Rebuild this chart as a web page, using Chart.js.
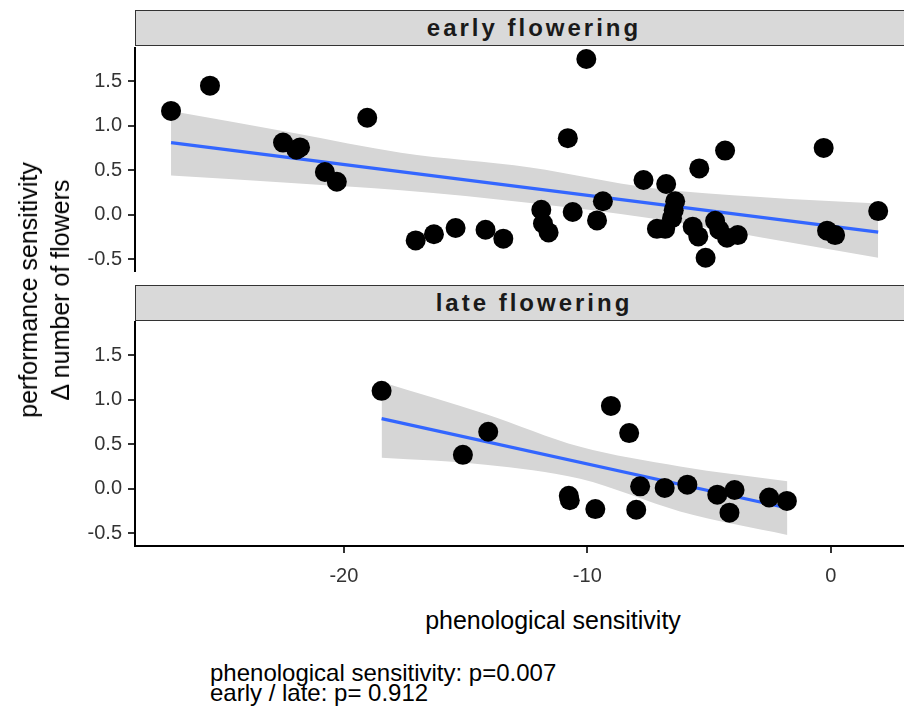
<!DOCTYPE html>
<html>
<head>
<meta charset="utf-8">
<script src="https://cdn.jsdelivr.net/npm/chart.js@4.4.0/dist/chart.umd.min.js"></script>
<style>
  html, body { margin: 0; padding: 0; background: #fff; }
  body {
    width: 904px; height: 708px; position: relative; overflow: hidden;
    font-family: "Liberation Sans", Arial, sans-serif; color: #000;
  }
  .panel { position: absolute; left: 0; width: 904px; }
  .strip {
    position: absolute; left: 135px; width: 796px; height: 34px;
    background: #d9d9d9; border: 1px solid #333;
    text-align: center; font-weight: bold; font-size: 24px;
    letter-spacing: 3px; line-height: 34px; color: #1a1a1a;
  }
  .ytitle {
    position: absolute; left: 44px; top: 290px;
    transform: translate(-50%, -50%) rotate(-90deg);
    white-space: nowrap; text-align: center;
    font-size: 25px; line-height: 32px;
  }
  .xtitle {
    position: absolute; left: 553px; top: 620px;
    transform: translate(-50%, -50%);
    white-space: nowrap; font-size: 25px; line-height: 30px;
  }
  .note {
    position: absolute; left: 210px; top: 663px;
    white-space: nowrap; font-size: 24px; line-height: 20px;
  }
</style>
</head>
<body>

<div class="strip" style="top:10px">early flowering</div>
<div class="panel" style="top:47px; height:225px"><canvas id="earlyChart"></canvas></div>

<div class="strip" style="top:285px">late flowering</div>
<div class="panel" style="top:321px; height:275px"><canvas id="lateChart"></canvas></div>

<div class="ytitle">performance sensitivity<br>Δ number of flowers</div>
<div class="xtitle">phenological sensitivity</div>
<div class="note">phenological sensitivity: p=0.007<br>early / late: p= 0.912</div>

<script>
// --- datos ---
const xTicks = [-20, -10, 0];
const yTicks = [-0.5, 0.0, 0.5, 1.0, 1.5];

// early flowering
const earlyX = [-27.10, -25.50, -22.50, -21.95, -21.80, -20.78, -20.29, -19.04, -17.05, -16.30,
                -15.41, -14.18, -13.45, -11.89, -11.82, -11.59, -10.80, -10.60, -10.04, -9.60,
                -9.36, -7.69, -7.14, -6.80, -6.76, -6.52, -6.45, -6.39, -5.67, -5.44,
                -5.40, -5.14, -4.75, -4.58, -4.34, -4.26, -3.82, -0.29, -0.15, 0.18, 1.95];
const earlyY = [1.166, 1.45, 0.81, 0.73, 0.756, 0.48, 0.37, 1.09, -0.29, -0.22,
                -0.15, -0.17, -0.27, 0.055, -0.10, -0.20, 0.86, 0.03, 1.75, -0.065,
                0.15, 0.39, -0.16, -0.16, 0.345, -0.04, 0.05, 0.15, -0.135, -0.245,
                0.52, -0.485, -0.07, -0.17, 0.72, -0.26, -0.23, 0.75, -0.18, -0.23, 0.04];
const earlyFitX = [-27.10, 1.95];
const earlyFitY = [0.81, -0.196];
const earlyBandX  = [-27.10, -22.0, -17.66, -12.34, -7.4, -2.9, 1.95];
const earlyBandLo = [0.44, 0.353, 0.274, 0.131, -0.04, -0.253, -0.485];
const earlyBandHi = [1.165, 0.914, 0.695, 0.53, 0.30, 0.199, 0.124];

// late flowering
const lateX = [-18.45, -15.11, -14.07, -10.76, -10.72, -9.67, -9.03, -8.28, -7.99, -7.83,
               -6.82, -5.89, -4.66, -4.16, -3.95, -2.53, -1.80];
const lateY = [1.10, 0.38, 0.64, -0.08, -0.13, -0.23, 0.93, 0.625, -0.237, 0.026,
               0.008, 0.045, -0.068, -0.27, -0.015, -0.10, -0.138];
const lateFitX = [-18.45, -1.78];
const lateFitY = [0.787, -0.218];
const lateBandX  = [-18.45, -14.18, -10.29, -6.19, -1.78];
const lateBandLo = [0.346, 0.27, 0.11, -0.256, -0.52];
const lateBandHi = [1.20, 0.84, 0.47, 0.25, 0.082];

const X_MIN = -28.58, X_MAX = 3.01;
const Y_MIN = -0.645, Y_MAX = 1.885;
const FONT = "'Liberation Sans', Arial, sans-serif";

function zip(xs, ys) {
    return xs.map((x, i) => ({ x: x, y: ys[i] }));
}

// quitar el relleno automatico que Chart.js deja para las etiquetas
function noPad(s) {
    s.paddingTop = 0; s.paddingBottom = 0;
    s.paddingLeft = 0; s.paddingRight = 0;
}

function makePanel(id, xs, ys, fitX, fitY, bandX, bandLo, bandHi, showX) {
    const bandStyle = {
        showLine: true, borderColor: 'rgba(0,0,0,0)', borderWidth: 0,
        pointRadius: 0, cubicInterpolationMode: 'monotone'
    };
    return new Chart(document.getElementById(id), {
        type: 'scatter',
        data: {
            datasets: [
                { // puntos
                    data: zip(xs, ys),
                    pointRadius: 10, pointHoverRadius: 10,
                    backgroundColor: '#000', borderWidth: 0, showLine: false
                },
                { // recta ajustada
                    data: zip(fitX, fitY),
                    showLine: true, borderColor: '#3366FF', borderWidth: 3.2,
                    pointRadius: 0, fill: false
                },
                { // banda superior
                    ...bandStyle, data: zip(bandX, bandHi),
                    fill: '+1', backgroundColor: 'rgb(214,214,214)'
                },
                { // banda inferior
                    ...bandStyle, data: zip(bandX, bandLo), fill: false
                }
            ]
        },
        options: {
            responsive: true,
            maintainAspectRatio: false,
            animation: false,
            layout: { padding: 0, autoPadding: false },
            plugins: { legend: { display: false }, tooltip: { enabled: false } },
            scales: {
                x: {
                    type: 'linear', min: X_MIN, max: X_MAX, display: showX,
                    afterBuildTicks: s => { s.ticks = xTicks.map(v => ({ value: v })); },
                    afterFit: s => { s.height = showX ? 50 : 0; noPad(s); },
                    border: { display: true, color: '#000', width: 2 },
                    grid: { drawOnChartArea: false, drawTicks: true, tickLength: 7, color: '#333', lineWidth: 2 },
                    ticks: {
                        autoSkip: false, maxRotation: 0, padding: 11,
                        color: '#333', font: { size: 20, family: FONT },
                        callback: v => String(v)
                    }
                },
                y: {
                    type: 'linear', min: Y_MIN, max: Y_MAX,
                    afterBuildTicks: s => { s.ticks = yTicks.map(v => ({ value: v })); },
                    afterFit: s => { s.width = 135; noPad(s); },
                    border: { display: true, color: '#000', width: 2 },
                    grid: { drawOnChartArea: false, drawTicks: true, tickLength: 7, color: '#333', lineWidth: 2 },
                    ticks: {
                        autoSkip: false, padding: 6,
                        color: '#333', font: { size: 20, family: FONT },
                        callback: v => Number(v).toFixed(1)
                    }
                }
            }
        }
    });
}

makePanel('earlyChart', earlyX, earlyY, earlyFitX, earlyFitY, earlyBandX, earlyBandLo, earlyBandHi, false);
makePanel('lateChart', lateX, lateY, lateFitX, lateFitY, lateBandX, lateBandLo, lateBandHi, true);
</script>
</body>
</html>
